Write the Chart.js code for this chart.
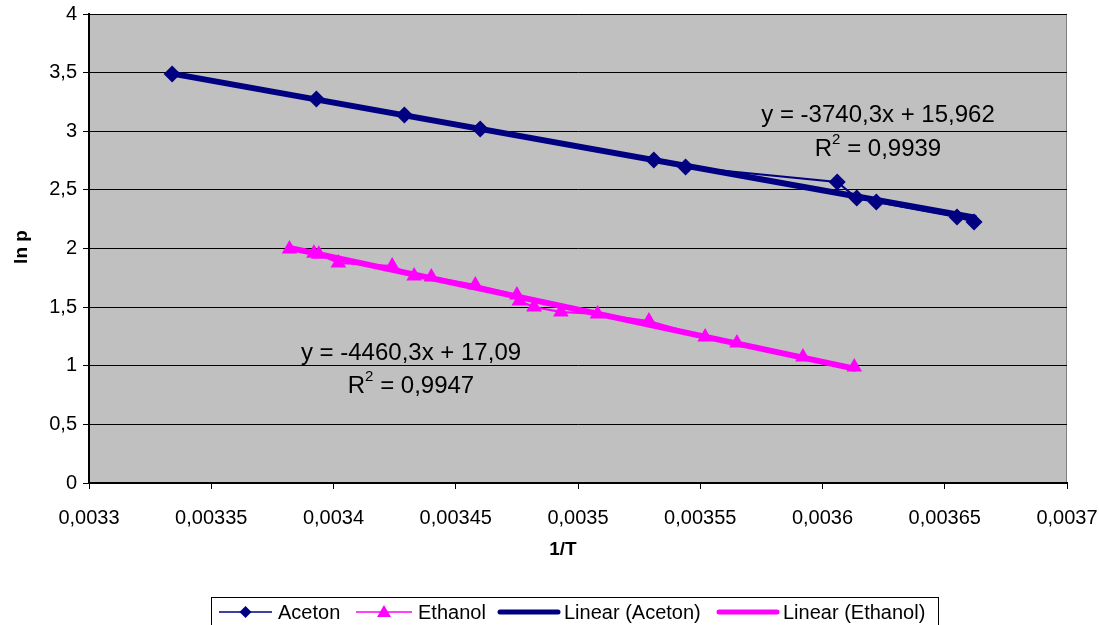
<!DOCTYPE html>
<html>
<head>
<meta charset="utf-8">
<script src="https://cdn.jsdelivr.net/npm/chart.js@4.4.1/dist/chart.umd.min.js"></script>
<style>
  body { margin: 0; background: #fff; }
  #wrap { width: 1099px; height: 625px; position: relative; }
</style>
</head>
<body>
<div id="wrap"><canvas id="chart" width="1099" height="625"></canvas></div>
<script>
// Aceton : 1/T et ln p
const acetonX = [0.003334, 0.003393, 0.003429, 0.00346, 0.003531, 0.003544, 0.003606, 0.003614, 0.003622, 0.003655, 0.003662];
const acetonY = [3.488, 3.275, 3.139, 3.019, 2.755, 2.695, 2.567, 2.43, 2.397, 2.269, 2.226];

// Ethanol : 1/T et ln p
const ethanolX = [0.003382, 0.003392, 0.003394, 0.003402, 0.003424, 0.003433, 0.00344, 0.003458, 0.003475, 0.003476,
                  0.003482, 0.003493, 0.003508, 0.003529, 0.003552, 0.003565, 0.003592, 0.003613];
const ethanolY = [1.996, 1.96, 1.95, 1.876, 1.85, 1.765, 1.757, 1.689, 1.603, 1.552,
                  1.501, 1.458, 1.441, 1.382, 1.245, 1.194, 1.075, 0.99];

// Droites de tendance (équations affichées sur le graphique)
const trendSlope = [-3740.3, -4460.3];
const trendIntercept = [15.962, 17.09];
const eqLabels = ['y = -3740,3x + 15,962', 'y = -4460,3x + 17,09'];
const r2Labels = ['0,9939', '0,9947'];

const seriesNames = ['Aceton', 'Ethanol', 'Linear (Aceton)', 'Linear (Ethanol)'];
const navy = '#000080';
const pink = '#FF00FF';

function points(xs, ys) {
    return xs.map((x, i) => ({ x: x, y: ys[i] }));
}

function trend(xs, k) {
    let x0 = Math.min(...xs), x1 = Math.max(...xs);
    return [x0, x1].map(x => ({ x: x, y: trendSlope[k] * x + trendIntercept[k] }));
}

function fmt(v) {
    return String(Number(v.toFixed(6))).replace('.', ',');
}

const font = 'Arial, "Liberation Sans", sans-serif';

// fond gris + textes + légende
const extras = {
    id: 'extras',
    beforeDraw(chart) {
        const a = chart.chartArea, ctx = chart.ctx;
        ctx.save();
        ctx.fillStyle = '#C0C0C0';
        ctx.fillRect(a.left, a.top, a.right - a.left, a.bottom - a.top);
        ctx.strokeStyle = '#808080';
        ctx.lineWidth = 1;
        ctx.strokeRect(a.left + 0.5, a.top + 0.5, a.right - a.left - 1, a.bottom - a.top);
        ctx.restore();
    },
    afterDraw(chart) {
        const ctx = chart.ctx;
        ctx.save();
        ctx.fillStyle = '#000';
        ctx.textAlign = 'center';
        ctx.textBaseline = 'middle';

        // titres des axes
        ctx.font = 'bold 19px ' + font;
        ctx.fillText('1/T', 563, 550);
        ctx.save();
        ctx.translate(22, 247);
        ctx.rotate(-Math.PI / 2);
        ctx.fillText('ln p', 0, 0);
        ctx.restore();

        // équations
        const eqPos = [[878, 115, 149], [411, 353, 386]];
        eqPos.forEach((p, k) => {
            ctx.font = '24px ' + font;
            ctx.textAlign = 'center';
            ctx.fillText(eqLabels[k], p[0], p[1]);
            let rest = ' = ' + r2Labels[k];
            let wR = ctx.measureText('R').width;
            let wRest = ctx.measureText(rest).width;
            ctx.font = '15px ' + font;
            let w2 = ctx.measureText('2').width;
            let x = p[0] - (wR + w2 + wRest) / 2;
            ctx.textAlign = 'left';
            ctx.font = '24px ' + font;
            ctx.fillText('R', x, p[2]);
            ctx.font = '15px ' + font;
            ctx.fillText('2', x + wR, p[2] - 9);
            ctx.font = '24px ' + font;
            ctx.fillText(rest, x + wR + w2, p[2]);
        });

        // légende
        ctx.strokeStyle = '#000';
        ctx.lineWidth = 1;
        ctx.strokeRect(211.5, 597.5, 727, 40);
        const ly = 612;
        const items = [
            { x: 219, w: 53, color: navy, lw: 1.5, marker: 'diamond' },
            { x: 356, w: 56, color: pink, lw: 1.5, marker: 'triangle' },
            { x: 500, w: 58, color: navy, lw: 5 },
            { x: 719, w: 58, color: pink, lw: 5 }
        ];
        items.forEach((it, i) => {
            ctx.strokeStyle = it.color;
            ctx.lineWidth = it.lw;
            ctx.lineCap = it.lw > 2 ? 'round' : 'butt';
            ctx.beginPath();
            ctx.moveTo(it.x, ly);
            ctx.lineTo(it.x + it.w, ly);
            ctx.stroke();
            let cx = it.x + it.w / 2;
            ctx.fillStyle = it.color;
            if (it.marker === 'diamond') {
                ctx.beginPath();
                ctx.moveTo(cx, ly - 6); ctx.lineTo(cx + 6, ly); ctx.lineTo(cx, ly + 6); ctx.lineTo(cx - 6, ly);
                ctx.closePath(); ctx.fill();
            } else if (it.marker === 'triangle') {
                ctx.beginPath();
                ctx.moveTo(cx, ly - 7); ctx.lineTo(cx + 7, ly + 5); ctx.lineTo(cx - 7, ly + 5);
                ctx.closePath(); ctx.fill();
            }
            ctx.fillStyle = '#000';
            ctx.textAlign = 'left';
            ctx.font = '20px ' + font;
            ctx.fillText(seriesNames[i], it.x + it.w + 6, ly + 1);
        });
        ctx.restore();
    }
};

new Chart(document.getElementById('chart'), {
    type: 'scatter',
    data: {
        datasets: [
            {
                label: seriesNames[0],
                data: points(acetonX, acetonY),
                showLine: true,
                borderColor: navy,
                backgroundColor: navy,
                borderWidth: 2,
                pointStyle: 'rectRot',
                pointRadius: 8.5,
                pointBorderWidth: 0,
                order: 1
            },
            {
                label: seriesNames[1],
                data: points(ethanolX, ethanolY),
                showLine: true,
                borderColor: pink,
                backgroundColor: pink,
                borderWidth: 2,
                pointStyle: 'triangle',
                pointRadius: 9,
                pointBorderWidth: 0,
                order: 1
            },
            {
                label: seriesNames[2],
                data: trend(acetonX, 0),
                showLine: true,
                borderColor: navy,
                borderWidth: 6,
                borderCapStyle: 'round',
                pointRadius: 0,
                order: 2
            },
            {
                label: seriesNames[3],
                data: trend(ethanolX, 1),
                showLine: true,
                borderColor: pink,
                borderWidth: 6,
                borderCapStyle: 'round',
                pointRadius: 0,
                order: 2
            }
        ]
    },
    options: {
        responsive: false,
        animation: false,
        layout: { padding: { top: 14, right: 32, left: 0, bottom: 0 } },
        plugins: {
            legend: { display: false },
            tooltip: { enabled: false }
        },
        scales: {
            x: {
                type: 'linear',
                min: 0.0033,
                max: 0.0037,
                afterFit(scale) {
                    scale.height = 142;
                    scale.paddingLeft = 0;
                    scale.paddingRight = 0;
                },
                ticks: {
                    stepSize: 0.00005,
                    color: '#000',
                    font: { size: 20, family: font },
                    padding: 17,
                    maxRotation: 0,
                    callback: v => fmt(v)
                },
                grid: {
                    drawOnChartArea: false,
                    drawTicks: true,
                    tickLength: 6,
                    color: '#000',
                    lineWidth: 1
                },
                border: { color: '#000', width: 2 }
            },
            y: {
                min: 0,
                max: 4,
                afterFit(scale) {
                    scale.width = 89;
                    scale.paddingTop = 0;
                    scale.paddingBottom = 0;
                },
                ticks: {
                    stepSize: 0.5,
                    color: '#000',
                    font: { size: 20, family: font },
                    padding: 6,
                    callback: v => fmt(v)
                },
                grid: {
                    color: '#000',
                    lineWidth: 1,
                    tickLength: 6
                },
                border: { color: '#000', width: 2 }
            }
        }
    },
    plugins: [extras]
});
</script>
</body>
</html>
